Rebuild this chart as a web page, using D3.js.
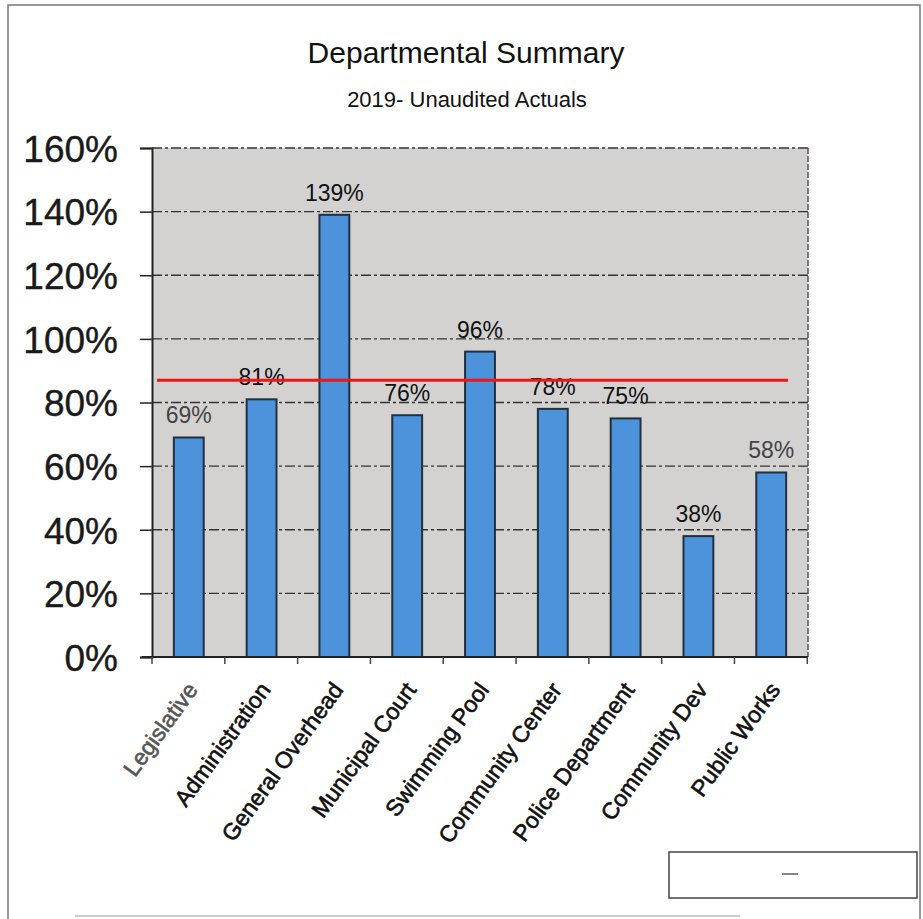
<!DOCTYPE html>
<html><head><meta charset="utf-8">
<script src="https://cdn.jsdelivr.net/npm/d3@7"></script>
<style>body{margin:0;background:#fff;} svg{display:block;font-family:"Liberation Sans",Arial,sans-serif;}</style>
</head><body>
<svg id="c" width="923" height="919"></svg>
<script>
const categories = ["Legislative","Administration","General Overhead","Municipal Court","Swimming Pool","Community Center","Police Department","Community Dev","Public Works"];
const values = [69, 81, 139, 76, 96, 78, 75, 38, 58];
const targetValue = 87;
const yTicks = [0,20,40,60,80,100,120,140,160];
const title = "Departmental Summary";
const subtitle = "2019- Unaudited Actuals";

const svg = d3.select("#c");
const m = {left:152, right:808, top:148, bottom:657};

// outer frame
svg.append("rect").attr("x",8).attr("y",5).attr("width",912).attr("height",930)
  .attr("fill","none").attr("stroke","#777").attr("stroke-width",1.5);
svg.append("line").attr("x1",75).attr("x2",740).attr("y1",916).attr("y2",916).attr("stroke","#ccc").attr("stroke-width",2);

const x = d3.scaleBand().domain(categories).range([m.left, m.right]).paddingInner(0.59).paddingOuter(0.3);
const y = d3.scaleLinear().domain([0,160]).range([m.bottom, m.top]);

// plot background
svg.append("rect").attr("x",m.left).attr("y",m.top).attr("width",m.right-m.left).attr("height",m.bottom-m.top)
  .attr("fill","#d4d2d1");

// gridlines
svg.append("g").selectAll("line").data(yTicks.filter(d=>d>0)).join("line")
  .attr("x1",m.left).attr("x2",m.right).attr("y1",d=>y(d)).attr("y2",d=>y(d))
  .attr("stroke","#333").attr("stroke-width",1.3).attr("stroke-dasharray","10,3,3,3");

// right border of plot
svg.append("line").attr("x1",m.right).attr("x2",m.right).attr("y1",m.top).attr("y2",m.bottom)
  .attr("stroke","#555").attr("stroke-width",1.5).attr("stroke-dasharray","6,2");

// y axis
const yAxis = d3.axisLeft(y).tickValues(yTicks).tickFormat(d=>d+"%").tickSize(12).tickPadding(22);
const ya = svg.append("g").attr("transform",`translate(${m.left},0)`).call(yAxis);
ya.select(".domain").attr("stroke","#222").attr("stroke-width",2);
ya.selectAll(".tick line").attr("stroke","#222").attr("stroke-width",1.5);
ya.selectAll(".tick text").attr("font-size",37).attr("fill","#1a1a1a").attr("dy","0.36em")
  .attr("stroke","#1a1a1a").attr("stroke-width",0.4);

// bars
svg.append("g").selectAll("rect").data(values).join("rect")
  .attr("x",(d,i)=>x(categories[i])).attr("width",x.bandwidth())
  .attr("y",d=>y(d)).attr("height",d=>y(0)-y(d))
  .attr("fill","#4d93db").attr("stroke","#22303d").attr("stroke-width",2);

// x axis
const step = x.step();
const xa = svg.append("g").attr("transform",`translate(0,${m.bottom})`);
xa.append("line").attr("x1",m.left-10).attr("x2",m.right).attr("y1",0).attr("y2",0).attr("stroke","#222").attr("stroke-width",2);
const boundaries = d3.range(categories.length+1).map(i=>m.left + i*step);
xa.selectAll(".tk").data(boundaries).join("line").attr("class","tk")
  .attr("x1",d=>d).attr("x2",d=>d).attr("y1",0).attr("y2",7).attr("stroke","#444").attr("stroke-width",1.5);
xa.selectAll(".lbl").data(categories).join("text").attr("class","lbl")
  .attr("transform",d=>`translate(${x(d)+x.bandwidth()/2+10},33) rotate(-54)`)
  .attr("text-anchor","end").attr("font-size",23)
  .attr("fill",(d,i)=>i===0?"#555":"#111")
  .attr("stroke",(d,i)=>i===0?"#555":"#111").attr("stroke-width",0.6)
  .text(d=>d);

// value labels
svg.append("g").selectAll("text").data(values).join("text")
  .attr("x",(d,i)=>x(categories[i])+x.bandwidth()/2)
  .attr("y",d=>y(d)-14).attr("text-anchor","middle").attr("font-size",23)
  .attr("fill",(d,i)=>(i===0||i===8)?"#444":"#111")
  .text(d=>d+"%");

// target line
svg.append("line").attr("x1",m.left+5).attr("x2",788).attr("y1",y(targetValue)).attr("y2",y(targetValue))
  .attr("stroke","#f01414").attr("stroke-width",3);

// titles
svg.append("text").attr("x",466).attr("y",63).attr("text-anchor","middle").attr("font-size",30).attr("fill","#111").text(title);
svg.append("text").attr("x",467).attr("y",107).attr("text-anchor","middle").attr("font-size",22).attr("fill","#111").text(subtitle);

// legend box
svg.append("rect").attr("x",669).attr("y",852).attr("width",248).attr("height",46).attr("fill","#fff").attr("stroke","#444").attr("stroke-width",1.5);
svg.append("line").attr("x1",782).attr("x2",798).attr("y1",874).attr("y2",874).attr("stroke","#888").attr("stroke-width",2);
</script>
</body></html>
